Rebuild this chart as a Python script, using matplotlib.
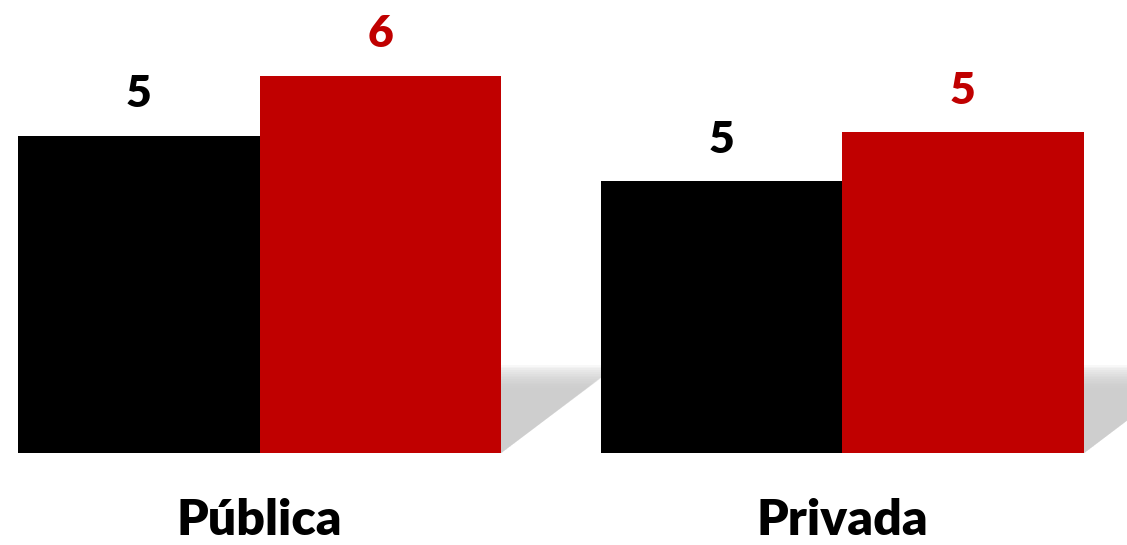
import numpy as np
import matplotlib.pyplot as plt
from matplotlib.patches import Polygon

plt.rcParams['font.family'] = ['Lato', 'DejaVu Sans']

categories = ['Pública', 'Privada']
series_black = [5.33, 4.57]
series_red = [6.34, 5.39]
labels_black = ['5', '5']
labels_red = ['6', '5']

BLACK = '#000000'
RED = '#c00000'

fig = plt.figure(figsize=(11.27, 5.45), dpi=100)
ax = fig.add_axes([0, 0, 1, 1])

x = np.arange(len(categories))
w = 0.4146

# soft shadow behind each group, to the right of the red bar
for xi in x:
    r = xi + w
    n = 14
    for k in range(n):
        f = 1.0 - 0.02 * k
        tri = Polygon([(r, 0), (r, 1.48 * f), (r + 0.2 * f, 1.48 * f)],
                      closed=True, facecolor='#c8c8c8', edgecolor='none',
                      alpha=0.12, zorder=1)
        ax.add_patch(tri)

b1 = ax.bar(x - w / 2, series_black, w, color=BLACK, zorder=2)
b2 = ax.bar(x + w / 2, series_red, w, color=RED, zorder=2)

for rect, lab in zip(b1, labels_black):
    ax.text(rect.get_x() + rect.get_width() / 2, rect.get_height() + 0.36, lab,
            ha='center', va='bottom', fontsize=32, fontweight='heavy', color=BLACK)
for rect, lab in zip(b2, labels_red):
    ax.text(rect.get_x() + rect.get_width() / 2, rect.get_height() + 0.36, lab,
            ha='center', va='bottom', fontsize=32, fontweight='heavy', color=RED)

for xi, cat in zip(x, categories):
    ax.text(xi, -1.13, cat, ha='center', va='center', fontsize=36,
            fontweight='heavy', color=BLACK)

ax.set_xlim(-0.4455, 1.489)
ax.set_ylim(-1.546, 7.613)
ax.axis('off')

fig.savefig('out.png', dpi=100)
